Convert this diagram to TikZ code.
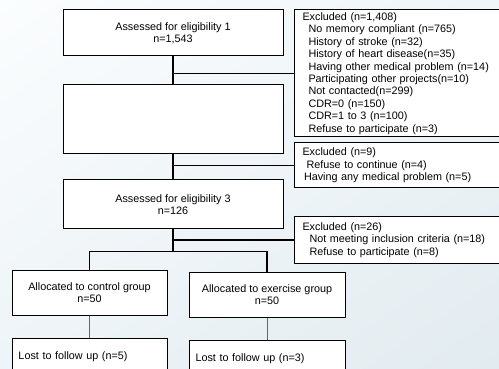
\documentclass[tikz,border=0pt]{standalone}
\usepackage{fontspec}
\setmainfont{Liberation Sans}
\usetikzlibrary{positioning,shadings}

\definecolor{bgtl}{HTML}{FBFDFE}
\definecolor{bgtr}{HTML}{EFF5F8}
\definecolor{bgbl}{HTML}{EEF4F7}
\definecolor{bgbr}{HTML}{E2EBF0}

\begin{document}
\begin{tikzpicture}[
  x=1pt, y=1pt,
  font=\fontsize{10.8}{12.4}\selectfont,
  box/.style={draw, fill=white, line width=1pt, inner sep=0pt, align=center,
              minimum width=220pt},
  excl/.style={draw, fill=white, line width=1pt, anchor=west, align=left,
               text width=212pt, inner xsep=8pt, inner ysep=2pt},
  grp/.style={draw, fill=white, line width=1pt, inner sep=0pt, align=center,
              minimum width=155pt, minimum height=45pt},
  lost/.style={draw, fill=white, line width=1pt, anchor=north, align=left,
               text width=142pt, inner xsep=6.5pt, inner ysep=0pt, minimum height=36pt},
  link/.style={line width=1.3pt},
  sublink/.style={line width=1pt, draw=black!60}
]
\useasboundingbox (0,0) rectangle (499,-369);
\clip (0,0) rectangle (499,-369);
\shade[upper left=bgtl, upper right=bgtr, lower left=bgbl, lower right=bgbr]
  (0,0) rectangle (499,-369);

% screening
\node[box, minimum height=46pt] (elig1) at (173,-33) {Assessed for eligibility 1\\n=1,543};
\node[box, minimum height=69pt, below=28pt of elig1] (elig2) {};
\node[box, minimum height=49pt, below=25pt of elig2] (elig3) {Assessed for eligibility 3\\n=126};

\node[excl, minimum height=127pt] (excl1) at (294,-73.5) {Excluded (n=1,408)\\
  \hspace*{6pt}No memory compliant (n=765)\\
  \hspace*{6pt}History of stroke (n=32)\\
  \hspace*{6pt}History of heart disease(n=35)\\
  \hspace*{6pt}Having other medical problem (n=14)\\
  \hspace*{6pt}Participating other projects(n=10)\\
  \hspace*{6pt}Not contacted(n=299)\\
  \hspace*{6pt}CDR=0 (n=150)\\
  \hspace*{6pt}CDR=1 to 3 (n=100)\\
  \hspace*{6pt}Refuse to participate (n=3)};
\node[excl, minimum height=45pt] (excl2) at (294,-165.5) {Excluded (n=9)\\
  \hspace*{4pt}Refuse to continue (n=4)\\
  \hspace*{1.5pt}Having any medical problem (n=5)};
\node[excl, minimum height=46pt] (excl3) at (294,-240) {Excluded (n=26)\\
  \hspace*{7pt}Not meeting inclusion criteria (n=18)\\
  \hspace*{7pt}Refuse to participate (n=8)};

% allocation
\coordinate[below=22pt of elig3.south] (split);
\node[grp] (ctrl) at (89.5,-292.5) {Allocated to control group\\n=50};
\node[grp, minimum width=156pt] (exer) at (267,-294.5) {Allocated to exercise group\\n=50};
\node[lost] (lostc) at (89.5,-338) {Lost to follow up (n=5)};
\node[lost, text width=143pt] (loste) at (267,-340) {Lost to follow up (n=3)};

\draw[link] (elig1) -- (elig2);
\draw[link] (elig1 |- excl1.west) -- (excl1.west);
\draw[link] (elig2) -- (elig3);
\draw[link] (elig2 |- excl2.west) -- (excl2.west);
\draw[link] (elig3) -- (split);
\draw[link] (elig3 |- excl3.west) -- (excl3.west);
\draw[link] (ctrl.north) |- (split) -| (exer.north);
\draw[sublink] (ctrl) -- (lostc);
\draw[sublink] (exer) -- (loste);
\end{tikzpicture}
\end{document}
